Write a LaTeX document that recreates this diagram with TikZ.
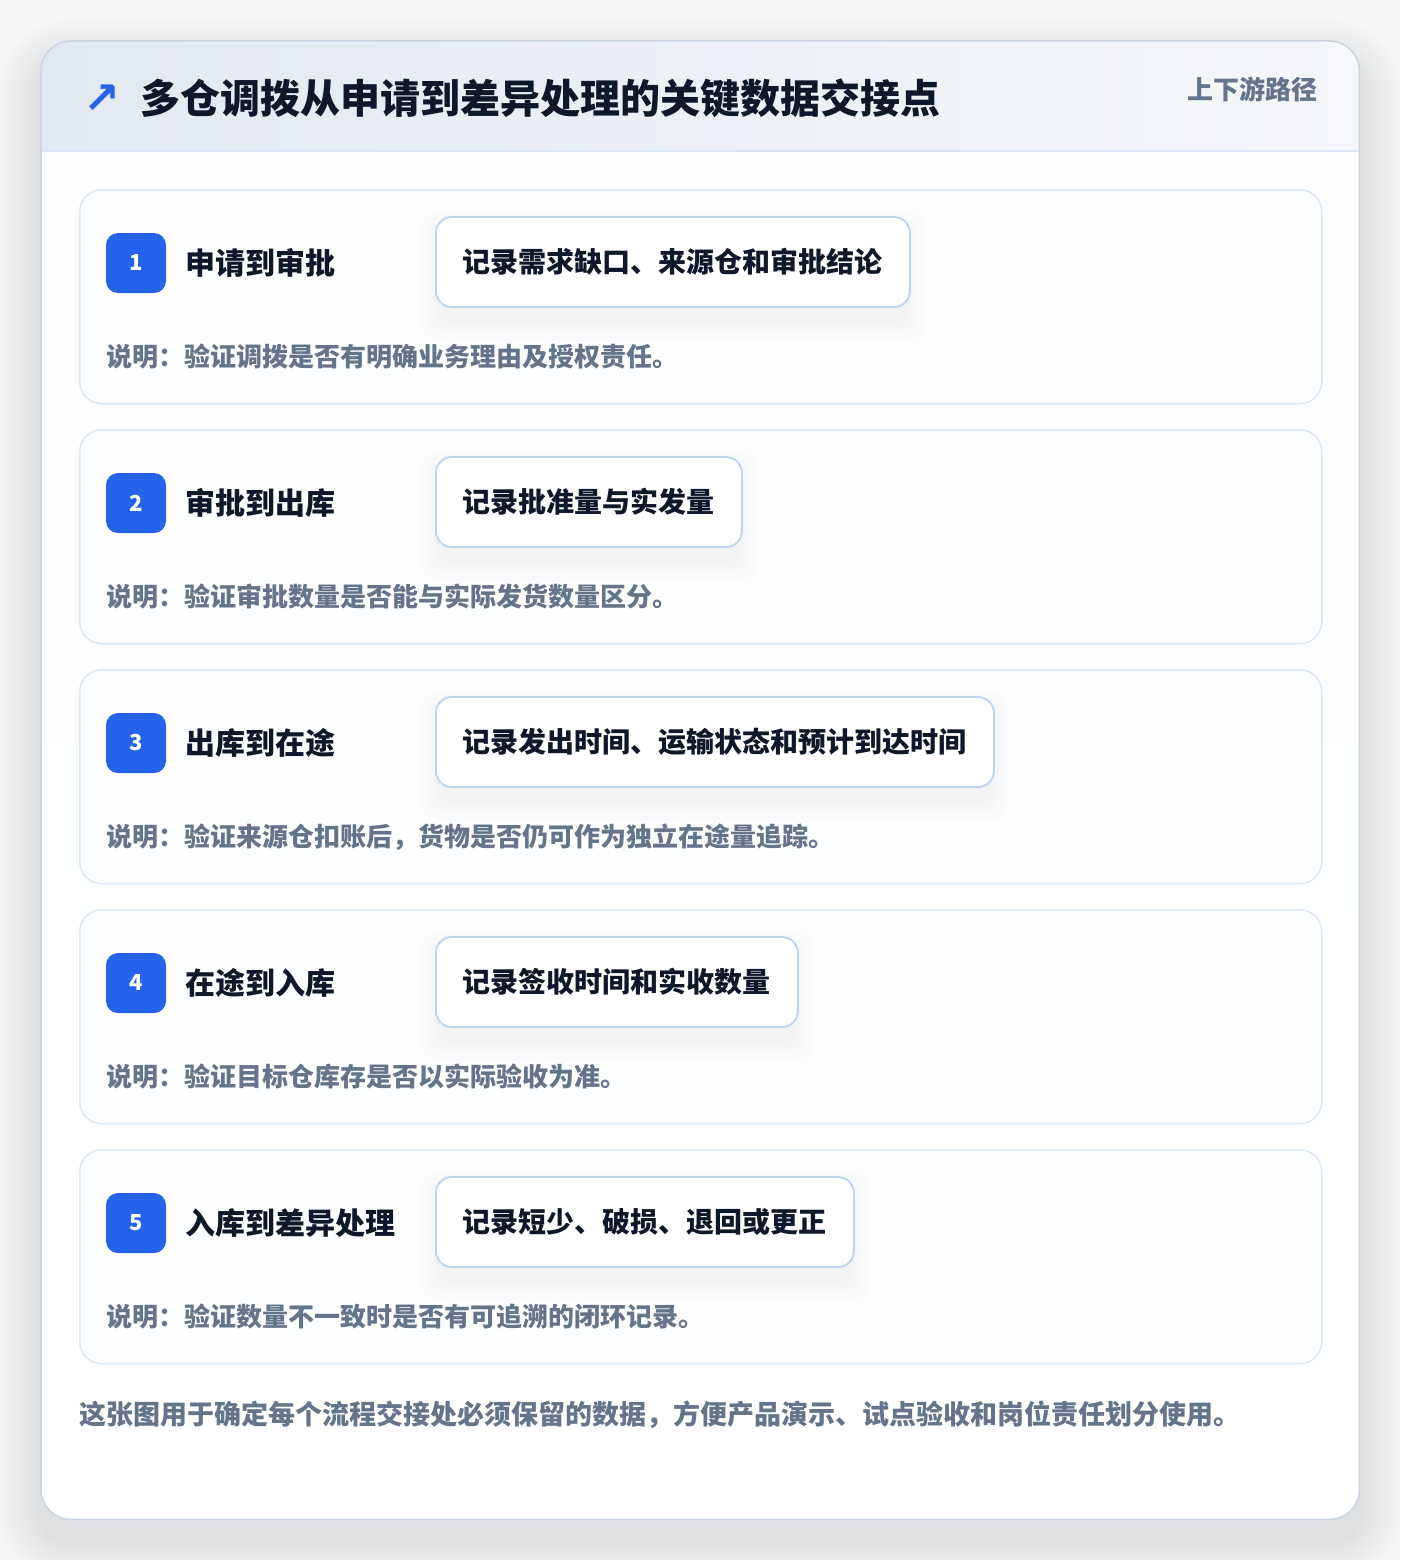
\documentclass[tikz,border=0pt]{standalone}
\usepackage{fontspec}
\setmainfont{Noto Sans CJK SC}
\newfontfamily\symfont{DejaVu Sans}
\definecolor{pagebg}{HTML}{F5F6F8}
\definecolor{mainborder}{HTML}{CBD5E1}
\definecolor{headl}{HTML}{E3E9F1}
\definecolor{headr}{HTML}{F5F7FA}
\definecolor{headline}{HTML}{DBE5F3}
\definecolor{cardborder}{HTML}{DCE7F5}
\definecolor{cardfill}{HTML}{FDFEFF}
\definecolor{boxborder}{HTML}{BCD3F1}
\definecolor{accent}{HTML}{2563EB}
\definecolor{ink}{HTML}{0F172A}
\definecolor{muted}{HTML}{64748B}
\tikzset{
  stepcard/.style={draw=cardborder, line width=1.5pt, fill=cardfill, rounded corners=22pt,
    minimum width=1242pt, minimum height=214pt, anchor=north west, inner sep=0pt},
  badge/.style={fill=accent, rounded corners=12pt, minimum width=60pt, minimum height=60pt,
    inner sep=0pt, text=white, font=\fontsize{22}{26}\selectfont\bfseries},
  steptitle/.style={anchor=west, inner sep=0pt, text=ink, font=\fontsize{30}{36}\selectfont\bfseries},
  databox/.style={draw=boxborder, line width=1.8pt, fill=white, rounded corners=16pt,
    minimum height=90pt, inner xsep=27pt, inner ysep=0pt, anchor=west, text=ink,
    font=\fontsize{28}{34}\selectfont\bfseries},
  notetext/.style={anchor=west, inner sep=0pt, text=muted, font=\fontsize{26}{32}\selectfont\bfseries},
}
\begin{document}
\begin{tikzpicture}[x=1pt,y=-1pt]
\useasboundingbox (0,0) rectangle (1400,1560);
\fill[pagebg] (0,0) rectangle (1400,1560);
% soft shadow of main card
\foreach \r in {2,4,...,44} {
  \pgfmathsetmacro{\rc}{30+\r}
  \fill[black,opacity=0.0035,rounded corners=\rc pt] (41-\r,41-\r+22) rectangle (1359+\r,1519+\r+22);
}
\node[fill=white, rounded corners=30pt, minimum width=1318pt, minimum height=1478pt,
  anchor=north west, inner sep=0pt] (main) at (41,41) {};
\begin{scope}
  \clip[rounded corners=30pt] (41,41) rectangle (1359,1519);
  \shade[top color=white!96!headl, bottom color=white] (41,151) rectangle (1359,1519);
  \shade[left color=headl, right color=headr] (41,41) rectangle (1359,151);
  \draw[headline, line width=1.5pt] (41,151) -- (1359,151);
\end{scope}
\draw[mainborder, line width=1.5pt, rounded corners=30pt] (main.north west) rectangle (main.south east);
% header
\node[text=accent, inner sep=0pt, font=\symfont\bfseries\fontsize{44}{50}\selectfont] (arrow) at (102,99) {↗};
\node[anchor=west, inner sep=0pt, text=ink, font=\fontsize{40}{48}\selectfont\bfseries] (title) at (140,98)
  {多仓调拨从申请到差异处理的关键数据交接点};
\node[anchor=east, inner sep=0pt, text=muted, font=\fontsize{26}{32}\selectfont\bfseries] (tag) at (1318,89)
  {上下游路径};
% steps
\foreach \i/\t/\d/\n in {
  1/申请到审批/记录需求缺口、来源仓和审批结论/说明：验证调拨是否有明确业务理由及授权责任。,
  2/审批到出库/记录批准量与实发量/说明：验证审批数量是否能与实际发货数量区分。,
  3/出库到在途/记录发出时间、运输状态和预计到达时间/说明：验证来源仓扣账后，货物是否仍可作为独立在途量追踪。,
  4/在途到入库/记录签收时间和实收数量/说明：验证目标仓库存是否以实际验收为准。,
  5/入库到差异处理/记录短少、破损、退回或更正/说明：验证数量不一致时是否有可追溯的闭环记录。} {
  \pgfmathsetmacro{\yo}{189+240*(\i-1)}
  \node[stepcard] (s\i) at (79,\yo) {};
  \node[badge] (b\i) at (136,\yo+74) {\i};
  \node[steptitle] (t\i) at (185,\yo+74) {\t};
  % shadow of data box
  \node[databox, draw=none, fill=none, text=white, opacity=0] (g\i) at (435,\yo+73) {\d};
  \foreach \r in {2,4,...,22} {
    \fill[black, opacity=0.005, rounded corners=18pt]
      ([xshift=-\r pt+6pt, yshift={-14pt+\r pt}]g\i.north west) rectangle ([xshift=\r pt-6pt, yshift={-14pt-\r pt}]g\i.south east);
  }
  \node[databox] (d\i) at (435,\yo+73) {\d};
  \node[notetext] (n\i) at (106,\yo+168) {\n};
}
\node[anchor=west, inner sep=0pt, text=muted, font=\fontsize{27}{32}\selectfont\bfseries] (foot) at (79,1415)
  {这张图用于确定每个流程交接处必须保留的数据，方便产品演示、试点验收和岗位责任划分使用。};
\end{tikzpicture}
\end{document}
